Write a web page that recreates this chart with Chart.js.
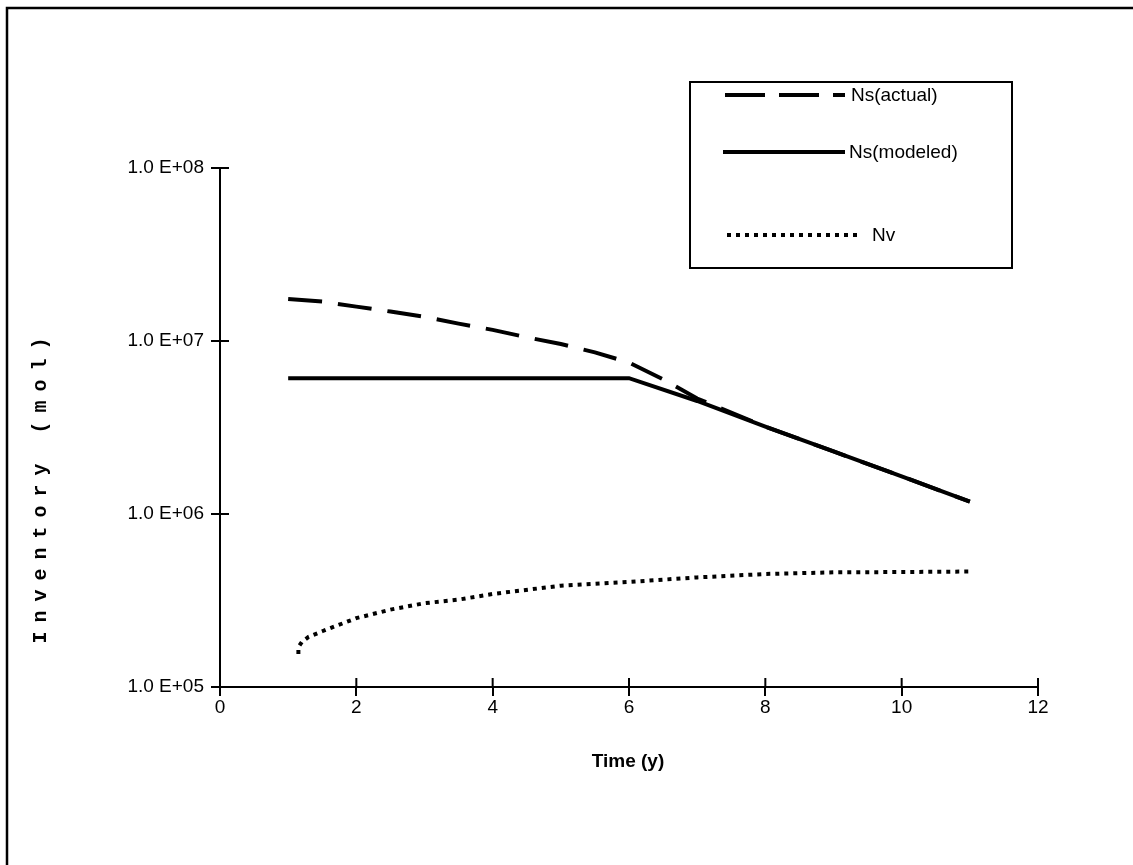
<!DOCTYPE html>
<html>
<head>
<meta charset="utf-8">
<script src="https://cdn.jsdelivr.net/npm/chart.js@4.4.0/dist/chart.umd.min.js"></script>
<style>
  body { margin: 0; background: #fff; }
  canvas { display: block; }
</style>
</head>
<body>
<canvas id="chartInv" width="1133" height="865"></canvas>
<script>
// data
const actualX = [1, 1.5, 2, 2.5, 3, 3.5, 4, 4.5, 5, 5.5, 6, 6.5, 7, 8, 9, 10, 11];
const actualY = [1.75e7, 1.69e7, 1.58e7, 1.48e7, 1.38e7, 1.26e7, 1.16e7, 1.05e7, 9.6e6, 8.6e6, 7.5e6, 6.0e6, 4.65e6, 3.2e6, 2.3e6, 1.65e6, 1.18e6];

const modeledX = [1, 6, 7, 8, 9, 10, 11];
const modeledY = [6.1e6, 6.1e6, 4.5e6, 3.2e6, 2.3e6, 1.65e6, 1.18e6];

const nvX = [1.15, 1.15, 1.2, 1.3, 1.5, 2, 2.5, 3, 3.5, 4, 5, 6, 7, 8, 9, 10, 11];
const nvY = [1.55e5, 1.7e5, 1.82e5, 1.95e5, 2.1e5, 2.5e5, 2.8e5, 3.05e5, 3.2e5, 3.45e5, 3.85e5, 4.05e5, 4.3e5, 4.5e5, 4.6e5, 4.62e5, 4.65e5];

const yTickValues = [1e5, 1e6, 1e7, 1e8];
const yTickLabels = ['1.0 E+05', '1.0 E+06', '1.0 E+07', '1.0 E+08'];

const seriesNames = ['Ns(actual)', 'Ns(modeled)', 'Nv'];
const xTitle = 'Time (y)';
const yTitle = 'Inventory (mol)';

function toPoints(xs, ys) {
  let pts = [];
  for (let i = 0; i < xs.length; i++) pts.push({ x: xs[i], y: ys[i] });
  return pts;
}

const dashes = [[34, 16], [], [4, 5]];

const extras = {
  id: 'extras',
  afterDraw(chart) {
    const c = chart.ctx;
    const xs = chart.scales.x, ys = chart.scales.y;
    c.save();
    c.strokeStyle = '#000';
    c.fillStyle = '#000';

    // outer frame (only top and left show)
    c.lineWidth = 2.5;
    c.beginPath();
    c.moveTo(7, 865);
    c.lineTo(7, 8);
    c.lineTo(1133, 8);
    c.stroke();

    // inner half of the crossing ticks
    c.lineWidth = 2;
    c.beginPath();
    xs.ticks.forEach(t => {
      const px = xs.getPixelForValue(t.value);
      c.moveTo(px, xs.top);
      c.lineTo(px, xs.top - 9);
    });
    ys.ticks.forEach(t => {
      const py = ys.getPixelForValue(t.value);
      c.moveTo(ys.right, py);
      c.lineTo(ys.right + 9, py);
    });
    c.stroke();

    // titles
    c.font = 'bold 19px "Liberation Sans", Arial, sans-serif';
    c.textAlign = 'center';
    c.textBaseline = 'middle';
    c.fillText(xTitle, 628, 762);

    c.save();
    c.translate(41, 490);
    c.rotate(-Math.PI / 2);
    c.font = 'bold 20px "Liberation Mono", "DejaVu Sans Mono", monospace';
    c.letterSpacing = '9px';
    c.fillText(yTitle, 4, 0);
    c.restore();

    // legend box
    c.lineWidth = 2;
    c.strokeRect(690, 82, 322, 186);
    const rows = [
      { y: 95, x0: 725, x1: 845, tx: 851 },
      { y: 152, x0: 723, x1: 845, tx: 849 },
      { y: 235, x0: 727, x1: 862, tx: 872 }
    ];
    c.font = '19px "Liberation Sans", Arial, sans-serif';
    c.textAlign = 'left';
    rows.forEach((r, i) => {
      c.lineWidth = 4;
      c.setLineDash(i == 0 ? [40, 14] : dashes[i]);
      c.beginPath();
      c.moveTo(r.x0, r.y);
      c.lineTo(r.x1, r.y);
      c.stroke();
      c.setLineDash([]);
      c.fillText(chart.data.datasets[i].label, r.tx, r.y + 1);
    });
    c.restore();
  }
};

const data = {
  datasets: [
    { label: seriesNames[0], data: toPoints(actualX, actualY), borderDash: dashes[0] },
    { label: seriesNames[1], data: toPoints(modeledX, modeledY), borderDash: dashes[1] },
    { label: seriesNames[2], data: toPoints(nvX, nvY), borderDash: dashes[2] }
  ].map(d => Object.assign(d, {
    borderColor: '#000',
    borderWidth: 4,
    pointRadius: 0,
    tension: 0,
    fill: false,
    borderCapStyle: 'butt'
  }))
};

const config = {
  type: 'line',
  data: data,
  options: {
    responsive: false,
    animation: false,
    layout: { padding: { top: 168, right: 95, left: 0, bottom: 0 } },
    plugins: { legend: { display: false }, tooltip: { enabled: false } },
    scales: {
      x: {
        type: 'linear',
        min: 0,
        max: 12,
        afterFit: s => { s.height = 865 - 687; },
        ticks: {
          stepSize: 2,
          color: '#000',
          padding: 0,
          font: { family: '"Liberation Sans", Arial, sans-serif', size: 19 }
        },
        grid: { drawOnChartArea: false, drawTicks: true, tickLength: 9, color: '#000', lineWidth: 2 },
        border: { display: true, color: '#000', width: 2 }
      },
      y: {
        type: 'logarithmic',
        min: 1e5,
        max: 1e8,
        afterFit: s => { s.width = 220; },
        afterBuildTicks: s => { s.ticks = yTickValues.map(v => ({ value: v })); },
        ticks: {
          color: '#000',
          padding: 7,
          callback: v => yTickLabels[yTickValues.indexOf(v)],
          font: { family: '"Liberation Sans", Arial, sans-serif', size: 19 }
        },
        grid: { drawOnChartArea: false, drawTicks: true, tickLength: 9, color: '#000', lineWidth: 2 },
        border: { display: true, color: '#000', width: 2 }
      }
    }
  },
  plugins: [extras]
};

const ctx = document.getElementById('chartInv').getContext('2d');
const myChart = new Chart(ctx, config);
</script>
</body>
</html>
